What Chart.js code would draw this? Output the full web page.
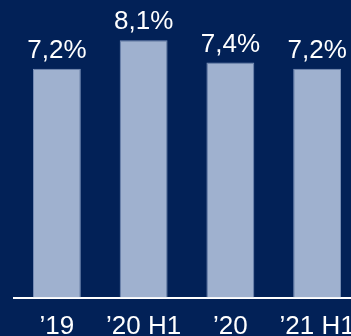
<!DOCTYPE html>
<html>
<head>
<meta charset="utf-8">
<script src="https://cdn.jsdelivr.net/npm/chart.js@4"></script>
<style>
  html, body { margin: 0; padding: 0; background: #022157; overflow: hidden; }
  #wrap { width: 362px; height: 336px; }
</style>
</head>
<body>
<div id="wrap"><canvas id="chart"></canvas></div>
<script>
const categories = ["\u201919", "\u201920 H1", "\u201920", "\u201921 H1"];
const values = [7.2, 8.1, 7.4, 7.2];
const valueLabels = ["7,2%", "8,1%", "7,4%", "7,2%"];

const barLabels = {
    id: 'barLabels',
    afterDatasetsDraw(chart) {
        const ctx = chart.ctx;
        const bars = chart.getDatasetMeta(0).data;
        ctx.save();
        ctx.fillStyle = '#ffffff';
        ctx.font = '26px "Liberation Sans", Arial, sans-serif';
        ctx.textAlign = 'center';
        ctx.textBaseline = 'alphabetic';
        bars.forEach((bar, i) => {
            ctx.fillText(valueLabels[i], bar.x, bar.y - 11);
        });
        ctx.restore();
    }
};

let chart = new Chart(document.getElementById("chart"), {
    type: 'bar',
    data: {
        labels: categories,
        datasets: [{
            data: values,
            backgroundColor: '#9fb1cf',
            borderColor: '#7a90b8',
            borderWidth: 1,
            categoryPercentage: 1,
            barPercentage: 0.552
        }]
    },
    options: {
        responsive: true,
        maintainAspectRatio: false,
        animation: false,
        layout: { padding: { left: 13.5, right: 1.5, top: 11.7, bottom: 0 } },
        plugins: { legend: { display: false }, tooltip: { enabled: false } },
        scales: {
            x: {
                grid: { display: false, drawTicks: false },
                border: { display: true, color: '#ffffff', width: 2 },
                ticks: {
                    color: '#ffffff',
                    font: { family: '"Liberation Sans", Arial, sans-serif', size: 26 },
                    padding: 14,
                    maxRotation: 0,
                    autoSkip: false
                },
                afterFit(scale) {
                    scale.height = 38.5;
                    scale.paddingLeft = 0;
                    scale.paddingRight = 0;
                }
            },
            y: {
                display: false,
                min: 0,
                max: 9
            }
        }
    },
    plugins: [barLabels]
});
</script>
</body>
</html>
